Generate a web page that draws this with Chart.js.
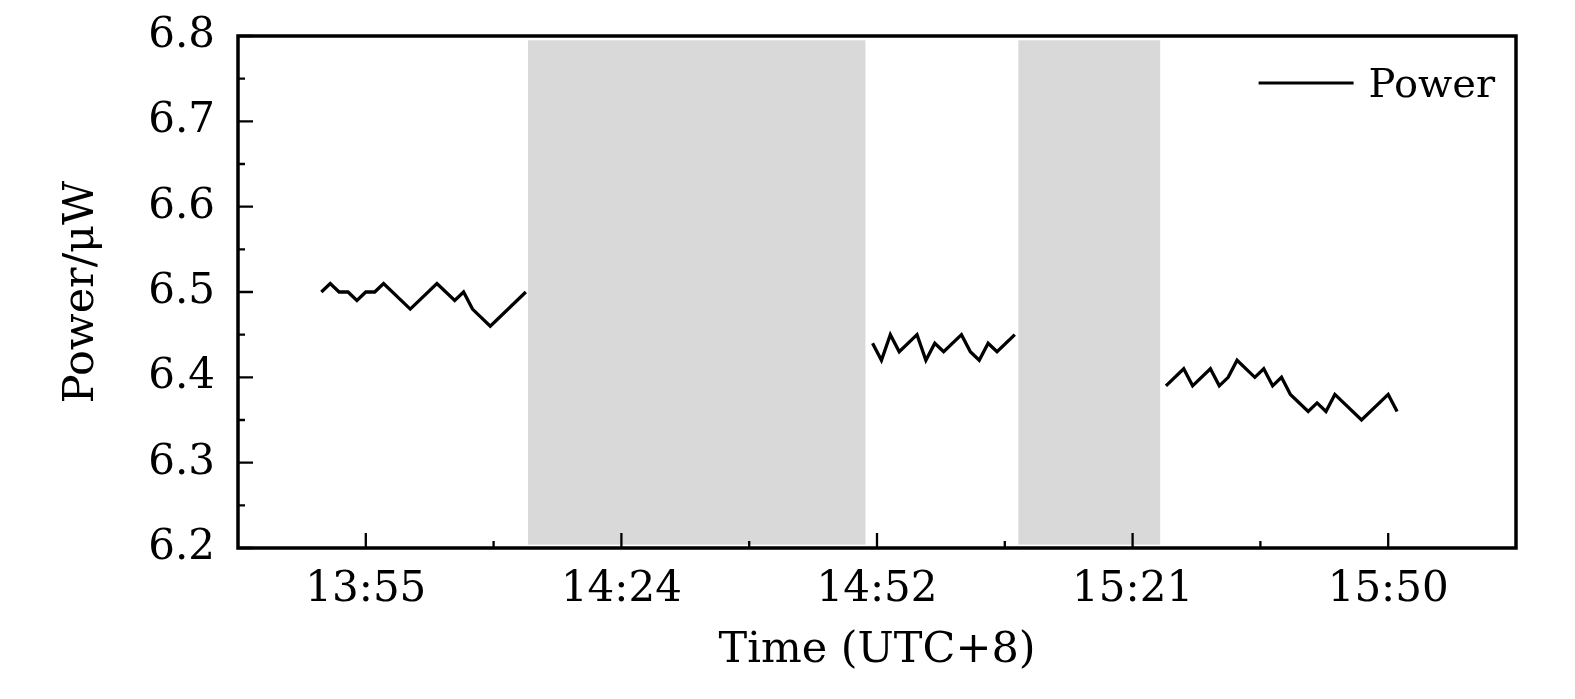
<!DOCTYPE html>
<html>
<head>
<meta charset="utf-8">
<script src="https://cdn.jsdelivr.net/npm/chart.js@4"></script>
<style>
  html, body { margin: 0; padding: 0; background: #fff; }
</style>
</head>
<body>
<canvas id="powerChart" width="1575" height="699"></canvas>
<script>
// Power trace, turning points (time, μW)
const seg1Times = ['13:50', '13:51', '13:52', '13:53', '13:54', '13:55', '13:56', '13:57', '14:00', '14:03', '14:05', '14:06', '14:07', '14:09', '14:13'];
const seg1Power = [6.50, 6.51, 6.50, 6.50, 6.49, 6.50, 6.50, 6.51, 6.48, 6.51, 6.49, 6.50, 6.48, 6.46, 6.50];

const seg2Times = ['14:52', '14:53', '14:54', '14:55', '14:57', '14:58', '14:59', '15:00', '15:02', '15:03', '15:04', '15:05', '15:06', '15:08'];
const seg2Power = [6.44, 6.42, 6.45, 6.43, 6.45, 6.42, 6.44, 6.43, 6.45, 6.43, 6.42, 6.44, 6.43, 6.45];

const seg3Times = ['15:25', '15:27', '15:28', '15:30', '15:31', '15:32', '15:33', '15:35', '15:36', '15:37', '15:38', '15:39', '15:41', '15:42', '15:43', '15:44', '15:47', '15:50', '15:51'];
const seg3Power = [6.39, 6.41, 6.39, 6.41, 6.39, 6.40, 6.42, 6.40, 6.41, 6.39, 6.40, 6.38, 6.36, 6.37, 6.36, 6.38, 6.35, 6.38, 6.36];

// shaded (no data) windows, minutes after midnight
const shadeStart = [853.25, 908.4];
const shadeEnd = [891.2, 924.35];
const shadeLow = 6.204;
const shadeHigh = 6.795;

// axes (x in minutes after midnight)
const xMin = 820.625;
const xMax = 964.375;
const xTickValues = [835, 863.75, 892.5, 921.25, 950];
const xTickLabels = ['13:55', '14:24', '14:52', '15:21', '15:50'];
const xMinorTicks = [849.375, 878.125, 906.875, 935.625];
const yTickValues = [6.2, 6.3, 6.4, 6.5, 6.6, 6.7, 6.8];
const yMinorTicks = [6.25, 6.35, 6.45, 6.55, 6.65, 6.75];

const FONT = 'DejaVu Serif';

function toMinutes(t) {
    const [h, m] = t.split(':').map(Number);
    return h * 60 + m;
}

function points(times, values) {
    return times.map((t, i) => ({ x: toMinutes(t), y: values[i] }));
}

// grey windows, inward ticks, frame and legend
const decorations = {
    id: 'decorations',
    beforeDatasetsDraw(chart) {
        const { ctx, scales: { x, y } } = chart;
        ctx.save();
        ctx.fillStyle = '#d9d9d9';
        shadeStart.forEach((from, i) => {
            const l = x.getPixelForValue(from);
            const r = x.getPixelForValue(shadeEnd[i]);
            const t = y.getPixelForValue(shadeHigh);
            const b = y.getPixelForValue(shadeLow);
            ctx.fillRect(l, t, r - l, b - t);
        });
        ctx.restore();
    },
    afterDatasetsDraw(chart) {
        const { ctx, chartArea: area, scales: { x, y } } = chart;
        ctx.save();
        ctx.strokeStyle = '#000';
        ctx.lineWidth = 2.3;
        ctx.beginPath();
        xTickValues.forEach(v => {
            const px = x.getPixelForValue(v);
            ctx.moveTo(px, area.bottom);
            ctx.lineTo(px, area.bottom - 15);
        });
        xMinorTicks.forEach(v => {
            const px = x.getPixelForValue(v);
            ctx.moveTo(px, area.bottom);
            ctx.lineTo(px, area.bottom - 7);
        });
        yTickValues.forEach(v => {
            const py = y.getPixelForValue(v);
            ctx.moveTo(area.left, py);
            ctx.lineTo(area.left + 15, py);
        });
        yMinorTicks.forEach(v => {
            const py = y.getPixelForValue(v);
            ctx.moveTo(area.left, py);
            ctx.lineTo(area.left + 7, py);
        });
        ctx.stroke();

        ctx.lineWidth = 3.5;
        ctx.strokeRect(area.left, area.top, area.right - area.left, area.bottom - area.top);

        // legend
        const label = chart.data.datasets[0].label;
        ctx.font = `40px "${FONT}"`;
        ctx.fillStyle = '#000';
        ctx.textAlign = 'right';
        ctx.textBaseline = 'alphabetic';
        const textRight = area.right - 21;
        const textWidth = ctx.measureText(label).width;
        ctx.fillText(label, textRight, area.top + 61);
        const lineEnd = textRight - textWidth - 15;
        ctx.lineWidth = 3;
        ctx.beginPath();
        ctx.moveTo(lineEnd - 95, area.top + 47);
        ctx.lineTo(lineEnd, area.top + 47);
        ctx.stroke();
        ctx.restore();
    }
};

const lineStyle = {
    borderColor: '#000',
    backgroundColor: '#000',
    borderWidth: 3.3,
    pointRadius: 0,
    tension: 0,
    fill: false
};

new Chart(document.getElementById('powerChart'), {
    type: 'line',
    data: {
        datasets: [
            { label: 'Power', data: points(seg1Times, seg1Power), ...lineStyle },
            { label: 'Power', data: points(seg2Times, seg2Power), ...lineStyle },
            { label: 'Power', data: points(seg3Times, seg3Power), ...lineStyle }
        ]
    },
    options: {
        responsive: false,
        animation: false,
        events: [],
        layout: { padding: { top: 36, right: 59, left: 0, bottom: 0 } },
        plugins: {
            legend: { display: false },
            tooltip: { enabled: false }
        },
        scales: {
            x: {
                type: 'linear',
                min: xMin,
                max: xMax,
                grid: { display: false, drawTicks: false, tickLength: 0 },
                border: { display: false },
                afterBuildTicks: scale => {
                    scale.ticks = xTickValues.map(v => ({ value: v }));
                },
                afterFit: scale => {
                    scale.height = 151;
                    scale.paddingLeft = 0;
                    scale.paddingRight = 0;
                },
                ticks: {
                    color: '#000',
                    padding: 17,
                    maxRotation: 0,
                    font: { family: FONT, size: 42 },
                    callback: (value, index) => xTickLabels[index]
                },
                title: {
                    display: true,
                    text: 'Time (UTC+8)',
                    color: '#000',
                    font: { family: FONT, size: 43 },
                    padding: { top: 0, bottom: 22 }
                }
            },
            y: {
                min: 6.2,
                max: 6.8,
                grid: { display: false, drawTicks: false, tickLength: 0 },
                border: { display: false },
                afterBuildTicks: scale => {
                    scale.ticks = yTickValues.map(v => ({ value: v }));
                },
                afterFit: scale => {
                    scale.width = 238;
                    scale.paddingTop = 0;
                    scale.paddingBottom = 0;
                },
                ticks: {
                    color: '#000',
                    padding: 23,
                    font: { family: FONT, size: 42 },
                    callback: value => Number(value).toFixed(1)
                },
                title: {
                    display: true,
                    text: 'Power/μW',
                    color: '#000',
                    font: { family: FONT, size: 43 },
                    padding: { top: 56, bottom: 0 }
                }
            }
        }
    },
    plugins: [decorations]
});
</script>
</body>
</html>
